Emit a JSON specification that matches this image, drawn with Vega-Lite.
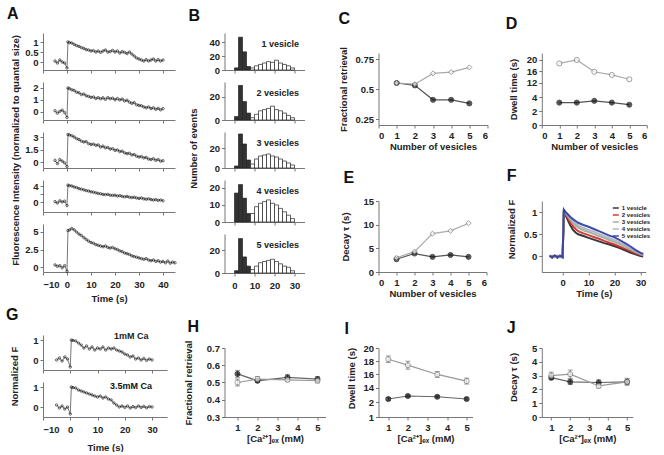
{
"$schema":"https://vega.github.io/schema/vega-lite/v6.json",
"padding":{"left":6,"top":6,"right":0,"bottom":0},
"background":"white",
"config":{
 "font":"Liberation Sans",
 "numberFormat":".12~g",
 "view":{"stroke":null},
 "axis":{"labelFont":"Liberation Sans","labelFontWeight":"bold","labelFontSize":9.5,"labelColor":"#222","titleFont":"Liberation Sans","titleFontWeight":"bold","titleFontSize":9.5,"titleColor":"#222","domainColor":"#777","tickColor":"#777","tickSize":3,"grid":false,"labelPadding":2,"titlePadding":2},
 "legend":{"labelFont":"Liberation Sans","labelFontWeight":"bold","labelFontSize":9,"labelColor":"#222","padding":0,"rowPadding":3,"symbolSize":26,"symbolStrokeWidth":1,"labelOffset":3},
 "title":{"font":"Liberation Sans","fontWeight":"bold","fontSize":16,"color":"#111","anchor":"start","frame":"group"},
 "tick":{"bandSize":5,"thickness":1}
},
"datasets":{
 "a1":[{"t":-5,"v":0.05},{"t":-4,"v":-0.05},{"t":-3,"v":0.1},{"t":-2,"v":0.0},{"t":-1,"v":-0.05},{"t":0,"v":-0.3},{"t":0.4,"v":1.0},{"t":1,"v":0.97},{"t":2,"v":0.95},{"t":3,"v":0.88},{"t":4,"v":0.82},{"t":5,"v":0.78},{"t":6,"v":0.72},{"t":7,"v":0.68},{"t":8,"v":0.62},{"t":9,"v":0.6},{"t":10,"v":0.55},{"t":11,"v":0.57},{"t":12,"v":0.5},{"t":13,"v":0.55},{"t":14,"v":0.48},{"t":15,"v":0.55},{"t":16,"v":0.6},{"t":17,"v":0.5},{"t":18,"v":0.52},{"t":19,"v":0.58},{"t":20,"v":0.5},{"t":21,"v":0.55},{"t":22,"v":0.45},{"t":23,"v":0.52},{"t":24,"v":0.48},{"t":25,"v":0.42},{"t":26,"v":0.5},{"t":27,"v":0.4},{"t":28,"v":0.3},{"t":29,"v":0.2},{"t":30,"v":0.15},{"t":31,"v":0.1},{"t":32,"v":0.05},{"t":33,"v":0.12},{"t":34,"v":0.05},{"t":35,"v":0.1},{"t":36,"v":0.15},{"t":37,"v":0.05},{"t":38,"v":0.12},{"t":39,"v":0.05},{"t":40,"v":0.1}],
 "a2":[{"t":-5,"v":0.1},{"t":-4,"v":-0.1},{"t":-3,"v":0.05},{"t":-2,"v":0.15},{"t":-1,"v":-0.05},{"t":0,"v":-0.45},{"t":0.4,"v":2.0},{"t":1,"v":1.95},{"t":2,"v":1.85},{"t":3,"v":1.8},{"t":4,"v":1.65},{"t":5,"v":1.6},{"t":6,"v":1.45},{"t":7,"v":1.5},{"t":8,"v":1.35},{"t":9,"v":1.3},{"t":10,"v":1.22},{"t":11,"v":1.25},{"t":12,"v":1.12},{"t":13,"v":1.2},{"t":14,"v":1.1},{"t":15,"v":1.18},{"t":16,"v":1.05},{"t":17,"v":1.2},{"t":18,"v":1.1},{"t":19,"v":1.15},{"t":20,"v":1.02},{"t":21,"v":1.12},{"t":22,"v":1.0},{"t":23,"v":1.08},{"t":24,"v":0.92},{"t":25,"v":0.98},{"t":26,"v":0.82},{"t":27,"v":0.72},{"t":28,"v":0.78},{"t":29,"v":0.6},{"t":30,"v":0.55},{"t":31,"v":0.52},{"t":32,"v":0.42},{"t":33,"v":0.35},{"t":34,"v":0.42},{"t":35,"v":0.28},{"t":36,"v":0.35},{"t":37,"v":0.22},{"t":38,"v":0.3},{"t":39,"v":0.18},{"t":40,"v":0.28}],
 "a3":[{"t":-5,"v":0.2},{"t":-4,"v":-0.2},{"t":-3,"v":0.3},{"t":-2,"v":0.1},{"t":-1,"v":-0.1},{"t":0,"v":-0.55},{"t":0.4,"v":3.3},{"t":1,"v":3.25},{"t":2,"v":3.15},{"t":3,"v":3.0},{"t":4,"v":2.8},{"t":5,"v":2.7},{"t":6,"v":2.5},{"t":7,"v":2.4},{"t":8,"v":2.45},{"t":9,"v":2.2},{"t":10,"v":2.1},{"t":11,"v":2.15},{"t":12,"v":2.0},{"t":13,"v":2.05},{"t":14,"v":1.8},{"t":15,"v":1.9},{"t":16,"v":1.7},{"t":17,"v":1.75},{"t":18,"v":1.55},{"t":19,"v":1.6},{"t":20,"v":1.4},{"t":21,"v":1.45},{"t":22,"v":1.25},{"t":23,"v":1.3},{"t":24,"v":1.1},{"t":25,"v":1.0},{"t":26,"v":1.05},{"t":27,"v":0.85},{"t":28,"v":0.9},{"t":29,"v":0.7},{"t":30,"v":0.6},{"t":31,"v":0.65},{"t":32,"v":0.5},{"t":33,"v":0.55},{"t":34,"v":0.35},{"t":35,"v":0.3},{"t":36,"v":0.4},{"t":37,"v":0.2},{"t":38,"v":0.3},{"t":39,"v":0.1},{"t":40,"v":0.15}],
 "a4":[{"t":-5,"v":0.1},{"t":-4,"v":-0.25},{"t":-3,"v":0.3},{"t":-2,"v":0.0},{"t":-1,"v":0.2},{"t":0,"v":-0.9},{"t":0.4,"v":4.2},{"t":1,"v":4.1},{"t":2,"v":4.0},{"t":3,"v":3.75},{"t":4,"v":3.6},{"t":5,"v":3.35},{"t":6,"v":3.2},{"t":7,"v":3.05},{"t":8,"v":2.85},{"t":9,"v":2.75},{"t":10,"v":2.55},{"t":11,"v":2.45},{"t":12,"v":2.3},{"t":13,"v":2.15},{"t":14,"v":2.05},{"t":15,"v":1.9},{"t":16,"v":1.85},{"t":17,"v":1.9},{"t":18,"v":1.7},{"t":19,"v":1.65},{"t":20,"v":1.7},{"t":21,"v":1.5},{"t":22,"v":1.6},{"t":23,"v":1.4},{"t":24,"v":1.3},{"t":25,"v":1.4},{"t":26,"v":1.2},{"t":27,"v":1.1},{"t":28,"v":1.2},{"t":29,"v":1.0},{"t":30,"v":0.9},{"t":31,"v":1.0},{"t":32,"v":0.8},{"t":33,"v":0.7},{"t":34,"v":0.8},{"t":35,"v":0.6},{"t":36,"v":0.5},{"t":37,"v":0.6},{"t":38,"v":0.4},{"t":39,"v":0.5},{"t":40,"v":0.3}],
 "a5":[{"t":-5,"v":0.3},{"t":-4,"v":0.1},{"t":-3,"v":0.2},{"t":-2,"v":-0.1},{"t":-1,"v":0.2},{"t":0,"v":-0.6},{"t":0.4,"v":5.2},{"t":1,"v":5.3},{"t":2,"v":5.5},{"t":3,"v":5.3},{"t":4,"v":5.0},{"t":5,"v":4.7},{"t":6,"v":4.5},{"t":7,"v":4.2},{"t":8,"v":3.95},{"t":9,"v":3.7},{"t":10,"v":3.5},{"t":11,"v":3.4},{"t":12,"v":3.2},{"t":13,"v":3.1},{"t":14,"v":3.0},{"t":15,"v":2.9},{"t":16,"v":3.0},{"t":17,"v":2.8},{"t":18,"v":2.7},{"t":19,"v":2.8},{"t":20,"v":2.6},{"t":21,"v":2.5},{"t":22,"v":2.3},{"t":23,"v":2.2},{"t":24,"v":2.0},{"t":25,"v":1.9},{"t":26,"v":1.8},{"t":27,"v":1.6},{"t":28,"v":1.5},{"t":29,"v":1.4},{"t":30,"v":1.3},{"t":31,"v":1.2},{"t":32,"v":1.1},{"t":33,"v":1.2},{"t":34,"v":1.0},{"t":35,"v":0.9},{"t":36,"v":1.0},{"t":37,"v":0.8},{"t":38,"v":0.9},{"t":39,"v":0.7},{"t":40,"v":0.8},{"t":41,"v":0.6},{"t":42,"v":0.85},{"t":43,"v":0.55},{"t":44,"v":0.7},{"t":45,"v":0.6}],
 "b1":[{"x0":0,"x1":2,"n":3,"k":"fast"},{"x0":2,"x1":4,"n":47,"k":"fast"},{"x0":4,"x1":6,"n":26,"k":"fast"},{"x0":6,"x1":8,"n":5,"k":"fast"},{"x0":8,"x1":10,"n":3,"k":"slow"},{"x0":10,"x1":12,"n":6,"k":"slow"},{"x0":12,"x1":14,"n":8,"k":"slow"},{"x0":14,"x1":16,"n":10,"k":"slow"},{"x0":16,"x1":18,"n":12,"k":"slow"},{"x0":18,"x1":20,"n":11,"k":"slow"},{"x0":20,"x1":22,"n":14,"k":"slow"},{"x0":22,"x1":24,"n":10,"k":"slow"},{"x0":24,"x1":26,"n":8,"k":"slow"},{"x0":26,"x1":28,"n":6,"k":"slow"},{"x0":28,"x1":30,"n":3,"k":"slow"}],
 "b2":[{"x0":0,"x1":2,"n":3,"k":"fast"},{"x0":2,"x1":4,"n":30,"k":"fast"},{"x0":4,"x1":6,"n":16,"k":"fast"},{"x0":6,"x1":8,"n":6,"k":"fast"},{"x0":8,"x1":10,"n":2,"k":"slow"},{"x0":10,"x1":12,"n":5,"k":"slow"},{"x0":12,"x1":14,"n":8,"k":"slow"},{"x0":14,"x1":16,"n":9,"k":"slow"},{"x0":16,"x1":18,"n":10,"k":"slow"},{"x0":18,"x1":20,"n":12,"k":"slow"},{"x0":20,"x1":22,"n":9,"k":"slow"},{"x0":22,"x1":24,"n":8,"k":"slow"},{"x0":24,"x1":26,"n":6,"k":"slow"},{"x0":26,"x1":28,"n":4,"k":"slow"},{"x0":28,"x1":30,"n":2,"k":"slow"}],
 "b3":[{"x0":0,"x1":2,"n":2,"k":"fast"},{"x0":2,"x1":4,"n":34,"k":"fast"},{"x0":4,"x1":6,"n":24,"k":"fast"},{"x0":6,"x1":8,"n":8,"k":"fast"},{"x0":8,"x1":10,"n":4,"k":"slow"},{"x0":10,"x1":12,"n":9,"k":"slow"},{"x0":12,"x1":14,"n":12,"k":"slow"},{"x0":14,"x1":16,"n":13,"k":"slow"},{"x0":16,"x1":18,"n":14,"k":"slow"},{"x0":18,"x1":20,"n":12,"k":"slow"},{"x0":20,"x1":22,"n":11,"k":"slow"},{"x0":22,"x1":24,"n":9,"k":"slow"},{"x0":24,"x1":26,"n":7,"k":"slow"},{"x0":26,"x1":28,"n":5,"k":"slow"},{"x0":28,"x1":30,"n":3,"k":"slow"}],
 "b4":[{"x0":0,"x1":2,"n":17,"k":"fast"},{"x0":2,"x1":4,"n":22,"k":"fast"},{"x0":4,"x1":6,"n":14,"k":"fast"},{"x0":6,"x1":8,"n":5,"k":"fast"},{"x0":8,"x1":10,"n":5,"k":"slow"},{"x0":10,"x1":12,"n":9,"k":"slow"},{"x0":12,"x1":14,"n":11,"k":"slow"},{"x0":14,"x1":16,"n":12,"k":"slow"},{"x0":16,"x1":18,"n":13,"k":"slow"},{"x0":18,"x1":20,"n":11,"k":"slow"},{"x0":20,"x1":22,"n":10,"k":"slow"},{"x0":22,"x1":24,"n":8,"k":"slow"},{"x0":24,"x1":26,"n":6,"k":"slow"},{"x0":26,"x1":28,"n":4,"k":"slow"},{"x0":28,"x1":30,"n":2,"k":"slow"}],
 "b5":[{"x0":0,"x1":2,"n":2,"k":"fast"},{"x0":2,"x1":4,"n":30,"k":"fast"},{"x0":4,"x1":6,"n":14,"k":"fast"},{"x0":6,"x1":8,"n":6,"k":"fast"},{"x0":8,"x1":10,"n":3,"k":"slow"},{"x0":10,"x1":12,"n":6,"k":"slow"},{"x0":12,"x1":14,"n":9,"k":"slow"},{"x0":14,"x1":16,"n":10,"k":"slow"},{"x0":16,"x1":18,"n":11,"k":"slow"},{"x0":18,"x1":20,"n":12,"k":"slow"},{"x0":20,"x1":22,"n":10,"k":"slow"},{"x0":22,"x1":24,"n":8,"k":"slow"},{"x0":24,"x1":26,"n":6,"k":"slow"},{"x0":26,"x1":28,"n":5,"k":"slow"},{"x0":28,"x1":30,"n":2,"k":"slow"}],
 "c":[{"n":1,"v":0.55,"k":"fast"},{"n":2,"v":0.53,"k":"fast"},{"n":3,"v":0.41,"k":"fast"},{"n":4,"v":0.41,"k":"fast"},{"n":5,"v":0.38,"k":"fast"},{"n":1,"v":0.55,"k":"slow"},{"n":2,"v":0.54,"k":"slow"},{"n":3,"v":0.63,"k":"slow"},{"n":4,"v":0.64,"k":"slow"},{"n":5,"v":0.68,"k":"slow"}],
 "d":[{"n":1,"v":3.2,"k":"fast"},{"n":2,"v":3.2,"k":"fast"},{"n":3,"v":3.45,"k":"fast"},{"n":4,"v":3.2,"k":"fast"},{"n":5,"v":2.9,"k":"fast"},{"n":1,"v":18.8,"k":"slow"},{"n":2,"v":20.0,"k":"slow"},{"n":3,"v":15.9,"k":"slow"},{"n":4,"v":14.8,"k":"slow"},{"n":5,"v":13.3,"k":"slow"}],
 "e":[{"n":1,"v":2.7,"k":"fast"},{"n":2,"v":3.9,"k":"fast"},{"n":3,"v":3.2,"k":"fast"},{"n":4,"v":3.6,"k":"fast"},{"n":5,"v":3.2,"k":"fast"},{"n":1,"v":3.0,"k":"slow"},{"n":2,"v":4.3,"k":"slow"},{"n":3,"v":8.1,"k":"slow"},{"n":4,"v":8.7,"k":"slow"},{"n":5,"v":10.3,"k":"slow"}],
 "f":[
  {"g":"1 vesicle","t":-5,"v":0.02},{"g":"1 vesicle","t":-4,"v":-0.03},{"g":"1 vesicle","t":-3,"v":0.01},{"g":"1 vesicle","t":-2,"v":-0.03},{"g":"1 vesicle","t":-1,"v":0.02},{"g":"1 vesicle","t":0,"v":-0.02},{"g":"1 vesicle","t":0.5,"v":1.05},{"g":"1 vesicle","t":1,"v":0.95},{"g":"1 vesicle","t":2,"v":0.82},{"g":"1 vesicle","t":3,"v":0.7},{"g":"1 vesicle","t":4,"v":0.6},{"g":"1 vesicle","t":5,"v":0.54},{"g":"1 vesicle","t":6,"v":0.5},{"g":"1 vesicle","t":8,"v":0.46},{"g":"1 vesicle","t":10,"v":0.42},{"g":"1 vesicle","t":12,"v":0.38},{"g":"1 vesicle","t":14,"v":0.34},{"g":"1 vesicle","t":16,"v":0.3},{"g":"1 vesicle","t":18,"v":0.27},{"g":"1 vesicle","t":20,"v":0.23},{"g":"1 vesicle","t":22,"v":0.19},{"g":"1 vesicle","t":24,"v":0.14},{"g":"1 vesicle","t":26,"v":0.09},{"g":"1 vesicle","t":28,"v":0.05},{"g":"1 vesicle","t":30,"v":0.01},{"g":"1 vesicle","t":31,"v":0.0},
  {"g":"2 vesicles","t":-5,"v":0.01},{"g":"2 vesicles","t":-4,"v":-0.02},{"g":"2 vesicles","t":-3,"v":0.02},{"g":"2 vesicles","t":-2,"v":-0.02},{"g":"2 vesicles","t":-1,"v":0.01},{"g":"2 vesicles","t":0,"v":-0.01},{"g":"2 vesicles","t":0.5,"v":1.05},{"g":"2 vesicles","t":1,"v":0.97},{"g":"2 vesicles","t":2,"v":0.86},{"g":"2 vesicles","t":3,"v":0.76},{"g":"2 vesicles","t":4,"v":0.68},{"g":"2 vesicles","t":5,"v":0.62},{"g":"2 vesicles","t":6,"v":0.57},{"g":"2 vesicles","t":8,"v":0.52},{"g":"2 vesicles","t":10,"v":0.48},{"g":"2 vesicles","t":12,"v":0.44},{"g":"2 vesicles","t":14,"v":0.4},{"g":"2 vesicles","t":16,"v":0.35},{"g":"2 vesicles","t":18,"v":0.31},{"g":"2 vesicles","t":20,"v":0.27},{"g":"2 vesicles","t":22,"v":0.22},{"g":"2 vesicles","t":24,"v":0.17},{"g":"2 vesicles","t":26,"v":0.12},{"g":"2 vesicles","t":28,"v":0.07},{"g":"2 vesicles","t":30,"v":0.03},{"g":"2 vesicles","t":31,"v":0.02},
  {"g":"3 vesicles","t":-5,"v":0.0},{"g":"3 vesicles","t":-4,"v":0.02},{"g":"3 vesicles","t":-3,"v":-0.01},{"g":"3 vesicles","t":-2,"v":0.01},{"g":"3 vesicles","t":-1,"v":-0.02},{"g":"3 vesicles","t":0,"v":0.0},{"g":"3 vesicles","t":0.5,"v":1.05},{"g":"3 vesicles","t":1,"v":0.99},{"g":"3 vesicles","t":2,"v":0.9},{"g":"3 vesicles","t":3,"v":0.82},{"g":"3 vesicles","t":4,"v":0.75},{"g":"3 vesicles","t":5,"v":0.7},{"g":"3 vesicles","t":6,"v":0.65},{"g":"3 vesicles","t":8,"v":0.59},{"g":"3 vesicles","t":10,"v":0.55},{"g":"3 vesicles","t":12,"v":0.51},{"g":"3 vesicles","t":14,"v":0.46},{"g":"3 vesicles","t":16,"v":0.42},{"g":"3 vesicles","t":18,"v":0.37},{"g":"3 vesicles","t":20,"v":0.33},{"g":"3 vesicles","t":22,"v":0.28},{"g":"3 vesicles","t":24,"v":0.22},{"g":"3 vesicles","t":26,"v":0.16},{"g":"3 vesicles","t":28,"v":0.1},{"g":"3 vesicles","t":30,"v":0.05},{"g":"3 vesicles","t":31,"v":0.03},
  {"g":"4 vesicles","t":-5,"v":-0.01},{"g":"4 vesicles","t":-4,"v":0.01},{"g":"4 vesicles","t":-3,"v":-0.02},{"g":"4 vesicles","t":-2,"v":0.02},{"g":"4 vesicles","t":-1,"v":0.0},{"g":"4 vesicles","t":0,"v":0.01},{"g":"4 vesicles","t":0.5,"v":1.05},{"g":"4 vesicles","t":1,"v":1.0},{"g":"4 vesicles","t":2,"v":0.93},{"g":"4 vesicles","t":3,"v":0.86},{"g":"4 vesicles","t":4,"v":0.8},{"g":"4 vesicles","t":5,"v":0.75},{"g":"4 vesicles","t":6,"v":0.7},{"g":"4 vesicles","t":8,"v":0.64},{"g":"4 vesicles","t":10,"v":0.6},{"g":"4 vesicles","t":12,"v":0.56},{"g":"4 vesicles","t":14,"v":0.51},{"g":"4 vesicles","t":16,"v":0.46},{"g":"4 vesicles","t":18,"v":0.41},{"g":"4 vesicles","t":20,"v":0.37},{"g":"4 vesicles","t":22,"v":0.31},{"g":"4 vesicles","t":24,"v":0.25},{"g":"4 vesicles","t":26,"v":0.19},{"g":"4 vesicles","t":28,"v":0.12},{"g":"4 vesicles","t":30,"v":0.06},{"g":"4 vesicles","t":31,"v":0.04},
  {"g":"5 vesicles","t":-5,"v":0.01},{"g":"5 vesicles","t":-4,"v":-0.01},{"g":"5 vesicles","t":-3,"v":0.02},{"g":"5 vesicles","t":-2,"v":-0.01},{"g":"5 vesicles","t":-1,"v":0.01},{"g":"5 vesicles","t":0,"v":-0.01},{"g":"5 vesicles","t":0.5,"v":1.05},{"g":"5 vesicles","t":1,"v":1.01},{"g":"5 vesicles","t":2,"v":0.95},{"g":"5 vesicles","t":3,"v":0.89},{"g":"5 vesicles","t":4,"v":0.84},{"g":"5 vesicles","t":5,"v":0.8},{"g":"5 vesicles","t":6,"v":0.76},{"g":"5 vesicles","t":8,"v":0.71},{"g":"5 vesicles","t":10,"v":0.67},{"g":"5 vesicles","t":12,"v":0.62},{"g":"5 vesicles","t":14,"v":0.57},{"g":"5 vesicles","t":16,"v":0.52},{"g":"5 vesicles","t":18,"v":0.47},{"g":"5 vesicles","t":20,"v":0.43},{"g":"5 vesicles","t":22,"v":0.37},{"g":"5 vesicles","t":24,"v":0.3},{"g":"5 vesicles","t":26,"v":0.23},{"g":"5 vesicles","t":28,"v":0.15},{"g":"5 vesicles","t":30,"v":0.08},{"g":"5 vesicles","t":31,"v":0.06}],
 "g1":[{"t":-5,"v":0.0},{"t":-4,"v":0.1},{"t":-3,"v":-0.05},{"t":-2,"v":0.15},{"t":-1,"v":0.05},{"t":0,"v":-0.35},{"t":0.4,"v":1.0},{"t":1,"v":0.98},{"t":2,"v":0.95},{"t":3,"v":0.85},{"t":4,"v":0.75},{"t":5,"v":0.6},{"t":6,"v":0.7},{"t":7,"v":0.55},{"t":8,"v":0.65},{"t":9,"v":0.5},{"t":10,"v":0.6},{"t":11,"v":0.55},{"t":12,"v":0.65},{"t":13,"v":0.5},{"t":14,"v":0.6},{"t":15,"v":0.55},{"t":16,"v":0.6},{"t":17,"v":0.5},{"t":18,"v":0.45},{"t":19,"v":0.4},{"t":20,"v":0.3},{"t":21,"v":0.25},{"t":22,"v":0.15},{"t":23,"v":0.2},{"t":24,"v":0.05},{"t":25,"v":0.1},{"t":26,"v":0.0},{"t":27,"v":0.08},{"t":28,"v":-0.02},{"t":29,"v":0.05},{"t":30,"v":0.0}],
 "g2":[{"t":-5,"v":0.1},{"t":-4,"v":-0.05},{"t":-3,"v":0.05},{"t":-2,"v":-0.1},{"t":-1,"v":0.0},{"t":0,"v":-0.35},{"t":0.4,"v":1.0},{"t":1,"v":0.97},{"t":2,"v":0.95},{"t":3,"v":0.85},{"t":4,"v":0.8},{"t":5,"v":0.75},{"t":6,"v":0.7},{"t":7,"v":0.65},{"t":8,"v":0.6},{"t":9,"v":0.55},{"t":10,"v":0.5},{"t":11,"v":0.55},{"t":12,"v":0.45},{"t":13,"v":0.5},{"t":14,"v":0.4},{"t":15,"v":0.35},{"t":16,"v":0.2},{"t":17,"v":0.1},{"t":18,"v":0.0},{"t":19,"v":0.05},{"t":20,"v":-0.02},{"t":21,"v":0.05},{"t":22,"v":-0.05},{"t":23,"v":0.02},{"t":24,"v":-0.03},{"t":25,"v":0.05},{"t":26,"v":-0.02},{"t":27,"v":0.03},{"t":28,"v":-0.04},{"t":29,"v":0.02},{"t":30,"v":0.0}],
 "h":[{"ca":1,"v":0.55,"lo":0.53,"hi":0.57,"k":"fast"},{"ca":2,"v":0.51,"lo":0.5,"hi":0.52,"k":"fast"},{"ca":3.5,"v":0.53,"lo":0.515,"hi":0.545,"k":"fast"},{"ca":5,"v":0.52,"lo":0.505,"hi":0.535,"k":"fast"},{"ca":1,"v":0.5,"lo":0.48,"hi":0.52,"k":"slow"},{"ca":2,"v":0.52,"lo":0.505,"hi":0.535,"k":"slow"},{"ca":3.5,"v":0.515,"lo":0.505,"hi":0.525,"k":"slow"},{"ca":5,"v":0.51,"lo":0.498,"hi":0.522,"k":"slow"}],
 "i":[{"ca":1,"v":2.2,"lo":2.1,"hi":2.3,"k":"fast"},{"ca":2,"v":2.4,"lo":2.32,"hi":2.48,"k":"fast"},{"ca":3.5,"v":2.35,"lo":2.27,"hi":2.43,"k":"fast"},{"ca":5,"v":2.2,"lo":2.12,"hi":2.28,"k":"fast"},{"ca":1,"v":18.3,"lo":17.8,"hi":18.8,"k":"slow"},{"ca":2,"v":17.4,"lo":16.8,"hi":18.0,"k":"slow"},{"ca":3.5,"v":16.0,"lo":15.55,"hi":16.45,"k":"slow"},{"ca":5,"v":15.0,"lo":14.55,"hi":15.45,"k":"slow"}],
 "j":[{"ca":1,"v":2.85,"lo":2.7,"hi":3.0,"k":"fast"},{"ca":2,"v":2.55,"lo":2.35,"hi":2.75,"k":"fast"},{"ca":3.5,"v":2.5,"lo":2.3,"hi":2.7,"k":"fast"},{"ca":5,"v":2.55,"lo":2.35,"hi":2.75,"k":"fast"},{"ca":1,"v":3.0,"lo":2.75,"hi":3.25,"k":"slow"},{"ca":2,"v":3.1,"lo":2.8,"hi":3.4,"k":"slow"},{"ca":3.5,"v":2.25,"lo":2.1,"hi":2.4,"k":"slow"},{"ca":5,"v":2.55,"lo":2.3,"hi":2.8,"k":"slow"}],
 "sp":[{"s":0}]
},
"resolve":{"scale":{"color":"independent","fill":"independent","stroke":"independent"},"legend":{"color":"independent","fill":"independent","stroke":"independent"}},
"spacing":4.5,
"hconcat":[
 {"bounds":"flush","spacing":12,
  "vconcat":[
    {"width":132,"height":37,"data":{"name":"a1"},"title":{"text":"A","dx":-36,"offset":11},
     "encoding":{"x":{"field":"t","type":"quantitative","scale":{"domain":[-10,45],"nice":false,"zero":false},"axis":{"values":[-10,0,10,20,30,40],"labels":false,"title":null}},
      "y":{"field":"v","type":"quantitative","scale":{"domain":[-0.4,1.45],"nice":false,"zero":false},"axis":{"values":[0,0.5,1],"title":null}}},
     "layer":[{"mark":{"type":"line","color":"#555","strokeWidth":0.8}},{"mark":{"type":"point","size":6,"color":"#111","strokeWidth":0.9}}]},
    {"width":132,"height":38,"data":{"name":"a2"},
     "encoding":{"x":{"field":"t","type":"quantitative","scale":{"domain":[-10,45],"nice":false,"zero":false},"axis":{"values":[-10,0,10,20,30,40],"labels":false,"title":null}},
      "y":{"field":"v","type":"quantitative","scale":{"domain":[-0.67,2.5],"nice":false,"zero":false},"axis":{"values":[0,1,2],"title":null}}},
     "layer":[{"mark":{"type":"line","color":"#555","strokeWidth":0.8}},{"mark":{"type":"point","size":6,"color":"#111","strokeWidth":0.9}}]},
    {"width":132,"height":36,"data":{"name":"a3"},
     "encoding":{"x":{"field":"t","type":"quantitative","scale":{"domain":[-10,45],"nice":false,"zero":false},"axis":{"values":[-10,0,10,20,30,40],"labels":false,"title":null}},
      "y":{"field":"v","type":"quantitative","scale":{"domain":[-0.72,3.6],"nice":false,"zero":false},"axis":{"values":[0,1.5,3],"title":"Fluorescence Intensity (normalized to quantal size)","titleX":-23,"titleY":18}}},
     "layer":[{"mark":{"type":"line","color":"#555","strokeWidth":0.8}},{"mark":{"type":"point","size":6,"color":"#111","strokeWidth":0.9}}]},
    {"width":132,"height":32,"data":{"name":"a4"},
     "encoding":{"x":{"field":"t","type":"quantitative","scale":{"domain":[-10,45],"nice":false,"zero":false},"axis":{"values":[-10,0,10,20,30,40],"labels":false,"title":null}},
      "y":{"field":"v","type":"quantitative","scale":{"domain":[-2.5,5.5],"nice":false,"zero":false},"axis":{"values":[0,2,4],"title":null}}},
     "layer":[{"mark":{"type":"line","color":"#555","strokeWidth":0.8}},{"mark":{"type":"point","size":6,"color":"#111","strokeWidth":0.9}}]},
    {"width":132,"height":48,"data":{"name":"a5"},
     "encoding":{"x":{"field":"t","type":"quantitative","scale":{"domain":[-10,45],"nice":false,"zero":false},"axis":{"values":[-10,0,10,20,30,40],"title":"Time (s)","labelPadding":4,"titlePadding":5}},
      "y":{"field":"v","type":"quantitative","scale":{"domain":[-0.71,6.14],"nice":false,"zero":false},"axis":{"values":[0,2.5,5],"title":null}}},
     "layer":[{"mark":{"type":"line","color":"#555","strokeWidth":0.8}},{"mark":{"type":"point","size":6,"color":"#111","strokeWidth":0.9}}]},
    {"width":1,"height":39,"data":{"name":"sp"},"mark":{"type":"point","opacity":0},"encoding":{}},
    {"width":124,"height":35,"data":{"name":"g1"},"title":{"text":"G","dx":-37,"offset":8},
     "encoding":{"x":{"field":"t","type":"quantitative","scale":{"domain":[-10,35.5],"nice":false,"zero":false},"axis":{"values":[-10,0,10,20,30],"labels":false,"title":"1mM Ca","titleX":105,"titleY":-35,"titleAlign":"right","titleBaseline":"middle","titleFontSize":9}},
      "y":{"field":"v","type":"quantitative","scale":{"domain":[-0.5,1.25],"nice":false,"zero":false},"axis":{"values":[0,1],"title":"Normalized F","titleX":-24,"titleY":41}}},
     "layer":[{"mark":{"type":"line","color":"#555","strokeWidth":0.8}},{"mark":{"type":"point","size":6,"color":"#111","strokeWidth":0.9}}]},
    {"width":124,"height":35,"data":{"name":"g2"},"title":{"text":"3.5mM Ca","anchor":"end","fontSize":9,"offset":-9,"dx":-15},
     "encoding":{"x":{"field":"t","type":"quantitative","scale":{"domain":[-10,35.5],"nice":false,"zero":false},"axis":{"values":[-10,0,10,20,30],"title":"Time (s)","labelPadding":4,"titlePadding":9}},
      "y":{"field":"v","type":"quantitative","scale":{"domain":[-0.5,1.25],"nice":false,"zero":false},"axis":{"values":[0,1],"title":null}}},
     "layer":[{"mark":{"type":"line","color":"#555","strokeWidth":0.8}},{"mark":{"type":"point","size":6,"color":"#111","strokeWidth":0.9}}]}
  ]},
 {"spacing":13,"resolve":{"scale":{"color":"independent","fill":"independent","stroke":"independent"},"legend":{"color":"independent","fill":"independent","stroke":"independent"}},
  "hconcat":[
   {"bounds":"flush","spacing":12,"resolve":{"scale":{"color":"independent","fill":"independent","stroke":"independent"},"legend":{"color":"independent","fill":"independent","stroke":"independent"}},
    "vconcat":[
       {"width":80,"height":37,"data":{"name":"b1"},"title":{"text":"B","dx":-36,"offset":9},"mark":{"type":"rect","stroke":"#222","strokeWidth":0.7},
        "encoding":{"x":{"field":"x0","type":"quantitative","scale":{"domain":[-5,35],"nice":false,"zero":false},"axis":{"values":[0,10,20,30],"labels":false,"title":"1 vesicle","titleX":74,"titleY":-27,"titleAlign":"right","titleBaseline":"middle","titleFontSize":9}},"x2":{"field":"x1"},
         "y":{"field":"n","type":"quantitative","scale":{"domain":[0,53],"nice":false},"axis":{"values":[0,20,40],"title":null}},"y2":{"datum":0},
         "fill":{"field":"k","type":"nominal","scale":{"domain":["fast","slow"],"range":["#333","#fff"]},"legend":null}}},
       {"width":80,"height":38,"data":{"name":"b2"},"mark":{"type":"rect","stroke":"#222","strokeWidth":0.7},
        "encoding":{"x":{"field":"x0","type":"quantitative","scale":{"domain":[-5,35],"nice":false,"zero":false},"axis":{"values":[0,10,20,30],"labels":false,"title":"2 vesicles","titleX":74,"titleY":-28,"titleAlign":"right","titleBaseline":"middle","titleFontSize":9}},"x2":{"field":"x1"},
         "y":{"field":"n","type":"quantitative","scale":{"domain":[0,33],"nice":false},"axis":{"values":[0,20],"title":null}},"y2":{"datum":0},
         "fill":{"field":"k","type":"nominal","scale":{"domain":["fast","slow"],"range":["#333","#fff"]},"legend":null}}},
       {"width":80,"height":36,"data":{"name":"b3"},"mark":{"type":"rect","stroke":"#222","strokeWidth":0.7},
        "encoding":{"x":{"field":"x0","type":"quantitative","scale":{"domain":[-5,35],"nice":false,"zero":false},"axis":{"values":[0,10,20,30],"labels":false,"title":"3 vesicles","titleX":74,"titleY":-26,"titleAlign":"right","titleBaseline":"middle","titleFontSize":9}},"x2":{"field":"x1"},
         "y":{"field":"n","type":"quantitative","scale":{"domain":[0,36],"nice":false},"axis":{"values":[0,20],"title":"Number of events","titleX":-26,"titleY":16}},"y2":{"datum":0},
         "fill":{"field":"k","type":"nominal","scale":{"domain":["fast","slow"],"range":["#333","#fff"]},"legend":null}}},
       {"width":80,"height":42,"data":{"name":"b4"},"mark":{"type":"rect","stroke":"#222","strokeWidth":0.7},
        "encoding":{"x":{"field":"x0","type":"quantitative","scale":{"domain":[-5,35],"nice":false,"zero":false},"axis":{"values":[0,10,20,30],"labels":false,"title":"4 vesicles","titleX":74,"titleY":-32,"titleAlign":"right","titleBaseline":"middle","titleFontSize":9}},"x2":{"field":"x1"},
         "y":{"field":"n","type":"quantitative","scale":{"domain":[0,24.7],"nice":false},"axis":{"values":[0,10,20],"title":null}},"y2":{"datum":0},
         "fill":{"field":"k","type":"nominal","scale":{"domain":["fast","slow"],"range":["#333","#fff"]},"legend":null}}},
       {"width":80,"height":39,"data":{"name":"b5"},"mark":{"type":"rect","stroke":"#222","strokeWidth":0.7},
        "encoding":{"x":{"field":"x0","type":"quantitative","scale":{"domain":[-5,35],"nice":false,"zero":false},"axis":{"values":[0,10,20,30],"labelPadding":4,"title":"5 vesicles","titleX":74,"titleY":-29,"titleAlign":"right","titleBaseline":"middle","titleFontSize":9}},"x2":{"field":"x1"},
         "y":{"field":"n","type":"quantitative","scale":{"domain":[0,34],"nice":false},"axis":{"values":[0,20],"title":null}},"y2":{"datum":0},
         "fill":{"field":"k","type":"nominal","scale":{"domain":["fast","slow"],"range":["#333","#fff"]},"legend":null}}},
       {"width":1,"height":51,"data":{"name":"sp"},"mark":{"type":"point","opacity":0},"encoding":{}},
       {"width":101,"height":69,"data":{"name":"h"},"title":{"text":"H","dx":-37,"offset":5},
        "encoding":{"x":{"field":"ca","type":"quantitative","scale":{"domain":[0.35,5.4],"nice":false,"zero":false},"axis":{"values":[1,2,3,4,5],"title":"[Ca²⁺]ₑₓ (mM)"}},
         "y":{"field":"v","type":"quantitative","scale":{"domain":[0.3,0.7],"nice":false,"zero":false},"axis":{"values":[0.3,0.4,0.5,0.6,0.7],"title":"Fractional retrieval","titleX":-31}}},
        "layer":[
         {"mark":{"type":"errorbar","ticks":true,"color":"#777"},"encoding":{"y":{"field":"lo","type":"quantitative","title":"Fractional retrieval"},"y2":{"field":"hi"},"detail":{"field":"k"}}},
         {"mark":{"type":"line","strokeWidth":1.2},"encoding":{"color":{"field":"k","type":"nominal","scale":{"domain":["fast","slow"],"range":["#666","#999"]},"legend":null}}},
         {"mark":{"type":"point","filled":true,"size":26,"strokeWidth":1},"encoding":{"fill":{"field":"k","type":"nominal","scale":{"domain":["fast","slow"],"range":["#111","#fff"]},"legend":{"title":null,"orient":"none","legendX":11,"legendY":-10}},"stroke":{"field":"k","type":"nominal","scale":{"domain":["fast","slow"],"range":["#111","#777"]},"legend":{"title":null,"orient":"none","legendX":11,"legendY":-10}}}}
        ]}
    ]},
   {"spacing":17.3,"resolve":{"scale":{"color":"independent","fill":"independent","stroke":"independent"},"legend":{"color":"independent","fill":"independent","stroke":"independent"}},
    "hconcat":[
     {"bounds":"flush","spacing":19,"resolve":{"scale":{"color":"independent","fill":"independent","stroke":"independent"},"legend":{"color":"independent","fill":"independent","stroke":"independent"}},
      "vconcat":[
       {"width":1,"height":1,"data":{"name":"sp"},"mark":{"type":"point","opacity":0,"size":1},"encoding":{}},
       {"bounds":"flush","spacing":76,"resolve":{"scale":{"color":"independent","fill":"independent","stroke":"independent"},"legend":{"color":"independent","fill":"independent","stroke":"independent"}},
        "vconcat":[
         {"width":109,"height":72,"data":{"name":"c"},"title":{"text":"C","dx":-40,"offset":19},
          "encoding":{"x":{"field":"n","type":"quantitative","scale":{"domain":[0,6],"nice":false},"axis":{"values":[0,1,2,3,4,5,6],"title":"Number of vesicles"}},
           "y":{"field":"v","type":"quantitative","scale":{"domain":[0.2,0.8],"nice":false,"zero":false},"axis":{"values":[0.25,0.5,0.75],"title":"Fractional retrieval","titleX":-30}}},
          "layer":[
           {"mark":{"type":"line","strokeWidth":1.2},"encoding":{"color":{"field":"k","type":"nominal","scale":{"domain":["fast","slow"],"range":["#555","#aaa"]},"legend":null}}},
           {"mark":{"type":"point","filled":true,"size":26,"strokeWidth":1},"encoding":{"shape":{"field":"k","type":"nominal","scale":{"domain":["fast","slow"],"range":["circle","diamond"]},"legend":null},"fill":{"field":"k","type":"nominal","scale":{"domain":["fast","slow"],"range":["#111","#fff"]},"legend":{"title":null,"orient":"none","legendX":9,"legendY":-6,"symbolType":"circle"}},"stroke":{"field":"k","type":"nominal","scale":{"domain":["fast","slow"],"range":["#111","#777"]},"legend":{"title":null,"orient":"none","legendX":9,"legendY":-6,"symbolType":"circle"}}}}
          ]},
         {"width":108,"height":71,"data":{"name":"e"},"title":{"text":"E","dx":-35,"offset":10},
          "encoding":{"x":{"field":"n","type":"quantitative","scale":{"domain":[0,6],"nice":false},"axis":{"values":[0,1,2,3,4,5,6],"title":"Number of vesicles"}},
           "y":{"field":"v","type":"quantitative","scale":{"domain":[0,15],"nice":false},"axis":{"values":[0,5,10,15],"title":"Decay τ (s)","titleX":-28}}},
          "layer":[
           {"mark":{"type":"line","strokeWidth":1.2},"encoding":{"color":{"field":"k","type":"nominal","scale":{"domain":["fast","slow"],"range":["#555","#aaa"]},"legend":null}}},
           {"mark":{"type":"point","filled":true,"size":26,"strokeWidth":1},"encoding":{"shape":{"field":"k","type":"nominal","scale":{"domain":["fast","slow"],"range":["circle","diamond"]},"legend":null},"fill":{"field":"k","type":"nominal","scale":{"domain":["fast","slow"],"range":["#111","#fff"]},"legend":{"title":null,"orient":"none","legendX":9,"legendY":1,"symbolType":"circle"}},"stroke":{"field":"k","type":"nominal","scale":{"domain":["fast","slow"],"range":["#111","#777"]},"legend":{"title":null,"orient":"none","legendX":9,"legendY":1,"symbolType":"circle"}}}}
          ]},
         {"width":94,"height":69,"data":{"name":"i"},"title":{"text":"I","dx":-34,"offset":6},
          "encoding":{"x":{"field":"ca","type":"quantitative","scale":{"domain":[0.5,5.3],"nice":false,"zero":false},"axis":{"values":[1,2,3,4,5],"title":"[Ca²⁺]ₑₓ (mM)"}},
           "y":{"field":"v","type":"quantitative","scale":{"domain":[1,2.8,13.8,20],"range":[69,42,41,0],"nice":false,"zero":false},"axis":{"values":[1,2,14,16,18,20],"title":"Dwell time (s)","titleX":-22,"titleY":30}}},
          "layer":[
           {"mark":{"type":"errorbar","ticks":true,"color":"#777"},"encoding":{"y":{"field":"lo","type":"quantitative","title":"Dwell time (s)"},"y2":{"field":"hi"},"detail":{"field":"k"}}},
           {"mark":{"type":"line","strokeWidth":1.2},"encoding":{"color":{"field":"k","type":"nominal","scale":{"domain":["fast","slow"],"range":["#666","#999"]},"legend":null}}},
           {"mark":{"type":"point","filled":true,"size":26,"strokeWidth":1},"encoding":{"fill":{"field":"k","type":"nominal","scale":{"domain":["fast","slow"],"range":["#111","#fff"]},"legend":{"title":null,"orient":"none","legendX":62,"legendY":-11}},"stroke":{"field":"k","type":"nominal","scale":{"domain":["fast","slow"],"range":["#111","#777"]},"legend":{"title":null,"orient":"none","legendX":62,"legendY":-11}}}}
          ]}
        ]}
      ]},
     {"bounds":"flush","spacing":19,"resolve":{"scale":{"color":"independent","fill":"independent","stroke":"independent"},"legend":{"color":"independent","fill":"independent","stroke":"independent"}},
      "vconcat":[
       {"width":1,"height":1,"data":{"name":"sp"},"mark":{"type":"point","opacity":0,"size":1},"encoding":{}},
       {"bounds":"flush","spacing":76,"resolve":{"scale":{"color":"independent","fill":"independent","stroke":"independent"},"legend":{"color":"independent","fill":"independent","stroke":"independent"}},
        "vconcat":[
         {"width":105,"height":72,"data":{"name":"d"},"title":{"text":"D","dx":-36,"offset":21},
          "encoding":{"x":{"field":"n","type":"quantitative","scale":{"domain":[0,6],"nice":false},"axis":{"values":[0,1,2,3,4,5,6],"title":"Number of vesicles"}},
           "y":{"field":"v","type":"quantitative","scale":{"domain":[0,5,10.26,22.43],"range":[72,37,35,0],"nice":false,"zero":false},"axis":{"values":[0,2,4,12,16,20],"title":"Dwell time (s)","titleX":-23}}},
          "layer":[
           {"mark":{"type":"line","strokeWidth":1.2},"encoding":{"color":{"field":"k","type":"nominal","scale":{"domain":["fast","slow"],"range":["#555","#aaa"]},"legend":null}}},
           {"mark":{"type":"point","filled":true,"size":26,"strokeWidth":1},"encoding":{"fill":{"field":"k","type":"nominal","scale":{"domain":["fast","slow"],"range":["#111","#fff"]},"legend":{"title":null,"orient":"none","legendX":84,"legendY":-7}},"stroke":{"field":"k","type":"nominal","scale":{"domain":["fast","slow"],"range":["#111","#777"]},"legend":{"title":null,"orient":"none","legendX":84,"legendY":-7}}}}
          ]},
         {"width":104,"height":71,"data":{"name":"f"},"title":{"text":"F","dx":-35,"offset":15},
          "mark":{"type":"line","strokeWidth":2,"opacity":0.9},
          "encoding":{"x":{"field":"t","type":"quantitative","scale":{"domain":[-8,32],"nice":false,"zero":false},"axis":{"values":[0,10,20,30],"title":"Time (s)"}},
           "y":{"field":"v","type":"quantitative","scale":{"domain":[-0.35,1.25],"nice":false,"zero":false},"axis":{"values":[0,0.5,1],"title":"Normalized F","titleX":-25,"titleY":28}},
           "color":{"field":"g","type":"nominal","scale":{"domain":["1 vesicle","2 vesicles","3 vesicles","4 vesicles","5 vesicles"],"range":["#222222","#d02828","#98a890","#a8b0c4","#2a3aa0"]},"legend":{"title":null,"orient":"none","legendX":70,"legendY":3,"labelFontSize":6,"symbolType":"stroke","symbolSize":36,"rowPadding":0,"symbolStrokeWidth":1.5,"labelOffset":2}}}},
         {"width":91,"height":69,"data":{"name":"j"},"title":{"text":"J","dx":-35,"offset":7},
          "encoding":{"x":{"field":"ca","type":"quantitative","scale":{"domain":[0.5,5.3],"nice":false,"zero":false},"axis":{"values":[1,2,3,4,5],"title":"[Ca²⁺]ₑₓ (mM)"}},
           "y":{"field":"v","type":"quantitative","scale":{"domain":[0,5],"nice":false},"axis":{"values":[0,1,2,3,4,5],"title":"Decay τ (s)","titleX":-23,"titleY":29}}},
          "layer":[
           {"mark":{"type":"errorbar","ticks":true,"color":"#777"},"encoding":{"y":{"field":"lo","type":"quantitative","title":"Decay τ (s)"},"y2":{"field":"hi"},"detail":{"field":"k"}}},
           {"mark":{"type":"line","strokeWidth":1.2},"encoding":{"color":{"field":"k","type":"nominal","scale":{"domain":["fast","slow"],"range":["#666","#999"]},"legend":null}}},
           {"mark":{"type":"point","filled":true,"size":26,"strokeWidth":1},"encoding":{"fill":{"field":"k","type":"nominal","scale":{"domain":["fast","slow"],"range":["#111","#fff"]},"legend":{"title":null,"orient":"none","legendX":62,"legendY":-11}},"stroke":{"field":"k","type":"nominal","scale":{"domain":["fast","slow"],"range":["#111","#777"]},"legend":{"title":null,"orient":"none","legendX":62,"legendY":-11}}}}
          ]}
        ]}
      ]}
    ]}
  ]}
]
}
